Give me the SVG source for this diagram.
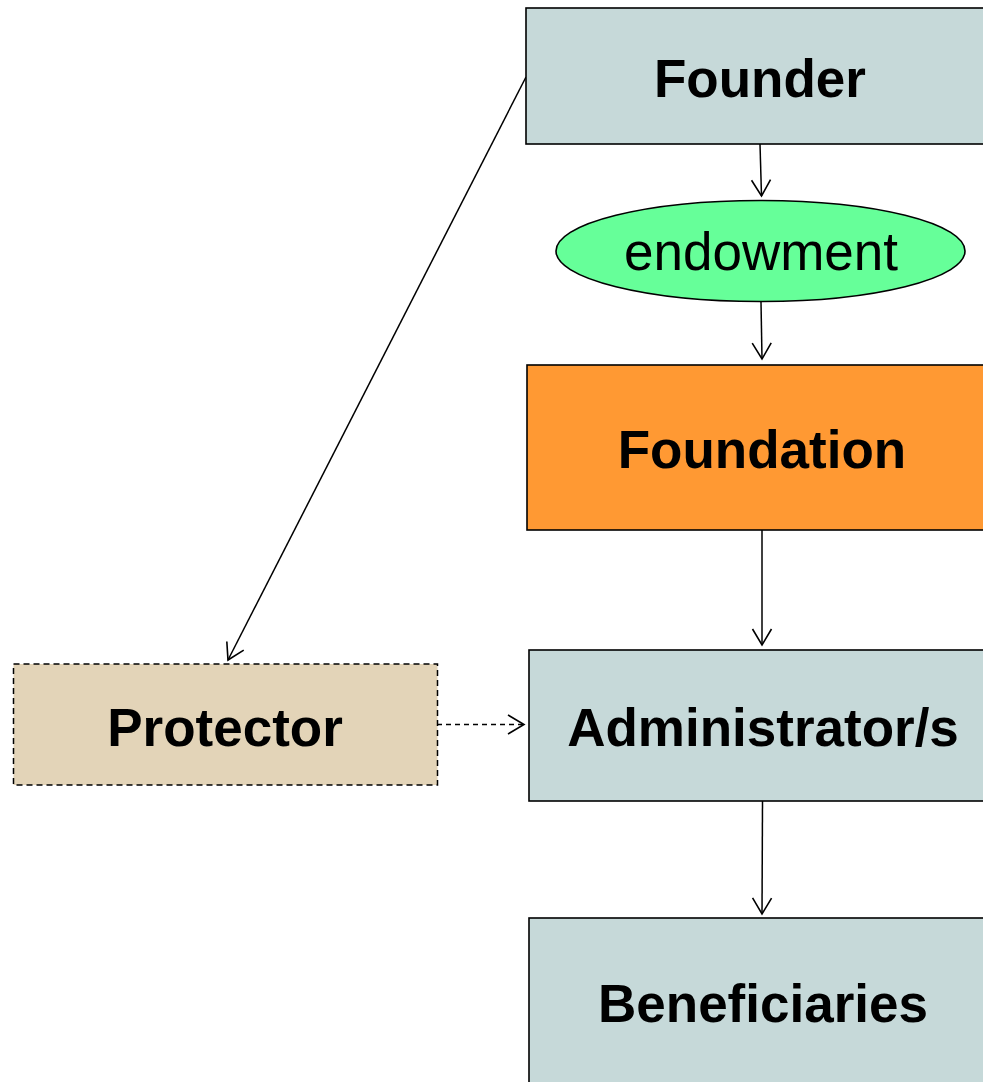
<svg xmlns="http://www.w3.org/2000/svg" width="983" height="1082" viewBox="0 0 983 1082">
<style>
.box{stroke:#000;stroke-width:1.6}
.blue{fill:#C6D9D9}
.lbl{font-family:"Liberation Sans",Arial,sans-serif;font-size:53px;font-weight:bold;text-anchor:middle;fill:#000}
.reg{font-family:"Liberation Sans",Arial,sans-serif;font-size:53px;text-anchor:middle;fill:#000}
.conn{stroke:#000;stroke-width:1.5;fill:none}
</style>
<defs>
<marker id="arr" markerWidth="20" markerHeight="22" refX="17" refY="11" orient="auto" markerUnits="userSpaceOnUse">
<path d="M1,1.5 L17,11 L1,20.5" fill="none" stroke="#000" stroke-width="1.6"/>
</marker>
</defs>
<rect width="983" height="1082" fill="#fff"/>
<g id="connectors">
<line class="conn" x1="760" y1="144" x2="761.5" y2="196" marker-end="url(#arr)"/>
<line class="conn" x1="761" y1="302" x2="762" y2="359" marker-end="url(#arr)"/>
<line class="conn" x1="762" y1="530" x2="762" y2="645" marker-end="url(#arr)"/>
<line class="conn" x1="762.5" y1="801" x2="762" y2="914" marker-end="url(#arr)"/>
<line class="conn" x1="526" y1="77" x2="228" y2="660" marker-end="url(#arr)"/>
<line class="conn" x1="437" y1="724.5" x2="524" y2="724.5" stroke-dasharray="5,4" marker-end="url(#arr)"/>
</g>
<g id="founder">
<rect class="box blue" x="526" y="8" width="470" height="136"/>
<text class="lbl" x="760" y="97">Founder</text>
</g>
<g id="endowment">
<ellipse class="box" cx="760.5" cy="251" rx="204.5" ry="50.5" fill="#66FF99"/>
<text class="reg" x="761" y="270">endowment</text>
</g>
<g id="foundation">
<rect class="box" x="527" y="365" width="470" height="165" fill="#FF9933"/>
<text class="lbl" x="762" y="468">Foundation</text>
</g>
<g id="protector">
<rect x="13.5" y="664" width="424" height="121" fill="#E3D4B8" stroke="#000" stroke-width="1.5" stroke-dasharray="6,4"/>
<text class="lbl" x="225" y="746">Protector</text>
</g>
<g id="administrators">
<rect class="box blue" x="529" y="650" width="470" height="151"/>
<text class="lbl" x="763" y="746">Administrator/s</text>
</g>
<g id="beneficiaries">
<rect class="box blue" x="529" y="918" width="470" height="180"/>
<text class="lbl" x="763" y="1022">Beneficiaries</text>
</g>
</svg>
